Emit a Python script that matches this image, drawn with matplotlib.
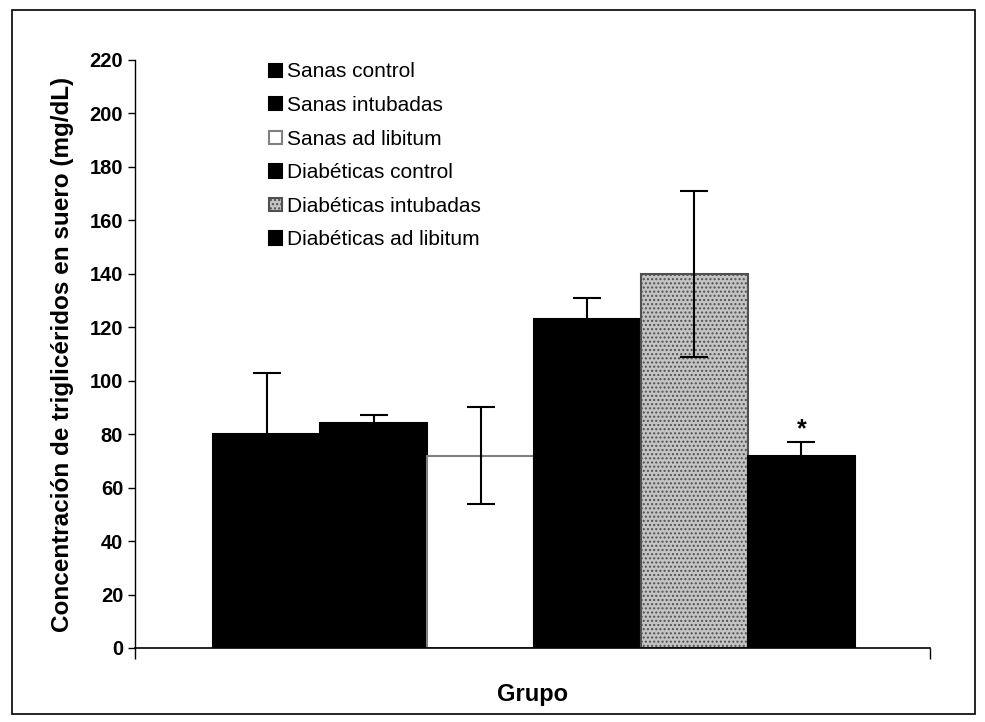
import numpy as np
import matplotlib.pyplot as plt
from matplotlib.patches import Rectangle

# Datos (mg/dL)
grupos = ['Sanas control', 'Sanas intubadas', 'Sanas ad libitum',
          'Diabéticas control', 'Diabéticas intubadas', 'Diabéticas ad libitum']
medias = [80, 84, 72, 123, 140, 72]
desv = [23, 3, 18, 8, 31, 5]
significativo = [False, False, False, False, False, True]

colores = ['black', 'black', 'white', 'black', '#c4c4c4', 'black']
bordes = ['black', 'black', '#808080', 'black', '#505050', 'black']
tramas = [None, None, None, None, '....', None]

plt.rcParams['font.family'] = ['Liberation Sans', 'DejaVu Sans']
plt.rcParams['hatch.color'] = '#8a8a8a'

fig = plt.figure(figsize=(9.85, 7.22), dpi=100)
ax = fig.add_axes([0.137, 0.1025, 0.807, 0.8145])

x = np.arange(len(medias))
for i in range(len(medias)):
    ax.bar(x[i], medias[i], width=1.0, color=colores[i], edgecolor=bordes[i],
           linewidth=1.5, hatch=tramas[i], label=grupos[i], zorder=2)
ax.errorbar(x, medias, yerr=desv, fmt='none', ecolor='black', elinewidth=1.5,
            capsize=10, capthick=1.5, zorder=3)

for i in range(len(medias)):
    if significativo[i]:
        ax.text(x[i], medias[i] + desv[i] + 0.5, '*', ha='center', va='bottom',
                fontsize=18, fontweight='bold')

ax.set_xlim(-1.23, 6.2)
ax.set_ylim(0, 220)
ax.set_yticks(np.arange(0, 221, 20))
ax.set_xticks([-1.23, 6.2])
ax.set_xticklabels([])
ax.tick_params(axis='y', direction='out', length=5, width=1, labelsize=14.5)
ax.tick_params(axis='x', direction='out', length=8, width=1)
for lab in ax.get_yticklabels():
    lab.set_fontweight('bold')
ax.spines['top'].set_visible(False)
ax.spines['right'].set_visible(False)
ax.spines['left'].set_linewidth(1)
ax.spines['bottom'].set_linewidth(1.2)

ax.set_ylabel('Concentración de triglicéridos en suero (mg/dL)', fontsize=17.5,
              fontweight='bold', labelpad=11)
ax.set_xlabel('Grupo', fontsize=17, fontweight='bold', labelpad=14)

leg = ax.legend(loc='upper left', bbox_to_anchor=(0.265, 0.925),
                bbox_transform=fig.transFigure, frameon=False, fontsize=15,
                handlelength=0.6, handleheight=0.6, handletextpad=0.25,
                labelspacing=0.7, borderaxespad=0)

# marco exterior
fig.patches.append(Rectangle((12 / 985, 1 - 714 / 722), 963 / 985, 704 / 722,
                             transform=fig.transFigure, fill=False,
                             edgecolor='black', linewidth=1.2))

fig.savefig('out.png', dpi=100)
